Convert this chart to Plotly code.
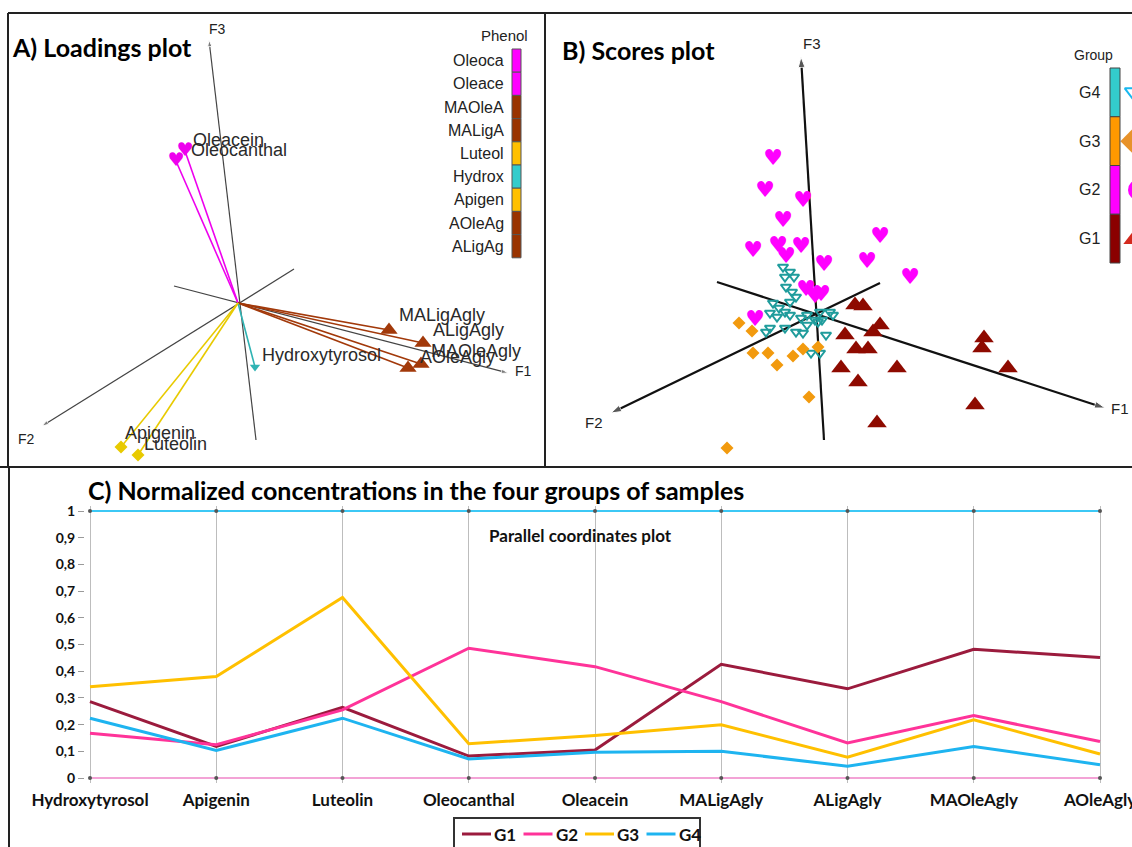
import plotly.graph_objects as go

# ---------------- Panel A: loadings (projected F1/F2/F3 view) ----------------
phenols = ["Oleacein", "Oleocanthal", "MALigAgly", "ALigAgly", "MAOleAgly",
           "AOleAgly", "Hydroxytyrosol", "Apigenin", "Luteolin"]
phenol_class = ["sec", "sec", "agly", "agly", "agly", "agly", "hyd", "flav", "flav"]
load_x = [-0.53, -0.62, 1.51, 1.85, 1.83, 1.70, 0.17, -1.17, -1.00]
load_y = [1.52, 1.42, -0.27, -0.40, -0.61, -0.65, -0.64, -1.44, -1.52]
lab_x = [-0.47, -0.49, 1.59, 1.93, 1.91, 1.80, 0.22, -1.15, -0.96]
lab_y = [1.63, 1.53, -0.12, -0.27, -0.48, -0.54, -0.52, -1.30, -1.41]

# projected factor axes (start, end) for panel A
axA_names = ["F1", "F2", "F3"]
axA_x0 = [-0.64, 0.56, 0.18]
axA_y0 = [0.17, 0.34, -1.37]
axA_x1 = [2.70, -1.96, -0.29]
axA_y1 = [-0.70, -1.23, 2.63]
axA_lx = [2.85, -2.12, -0.21]
axA_ly = [-0.68, -1.36, 2.74]

phenol_legend = ["Oleoca", "Oleace", "MAOleA", "MALigA", "Luteol", "Hydrox", "Apigen", "AOleAg", "ALigAg"]
phenol_legend_class = ["sec", "sec", "agly", "agly", "flav", "hyd", "flav", "agly", "agly"]

# ---------------- Panel B: scores ----------------
g1_x = [0.39, 0.47, 0.64, 0.57, 0.29, 0.40, 0.52, 0.25, 0.81, 0.42, 1.68, 1.66, 1.92, 1.59, 0.61]
g1_y = [0.08, 0.07, -0.12, -0.19, -0.22, -0.36, -0.36, -0.55, -0.55, -0.69, -0.25, -0.35, -0.55, -0.92, -1.10]
g2_x = [-0.43, -0.51, -0.13, -0.33, -0.63, -0.38, -0.15, -0.30, 0.08, 0.64, 0.51, 0.94, -0.10, -0.01, 0.05, -0.61]
g2_y = [1.54, 1.22, 1.12, 0.92, 0.62, 0.67, 0.66, 0.56, 0.48, 0.76, 0.51, 0.35, 0.23, 0.16, 0.18, -0.07]
g3_x = [-0.77, -0.64, -0.63, -0.48, -0.39, -0.23, -0.13, 0.02, -0.07, -0.89]
g3_y = [-0.10, -0.18, -0.40, -0.40, -0.52, -0.43, -0.36, -0.34, -0.84, -1.35]
g4_x = [-0.33, -0.26, -0.31, -0.22, -0.30, -0.24, -0.20, -0.26, -0.43, -0.37, -0.46, -0.31,
        -0.39, -0.26, -0.15, -0.09, 0.04, 0.14, 0.17, 0.06, -0.01, -0.46, -0.50, -0.31,
        -0.20, -0.09, 0.02, -0.05, 0.04, -0.13, 0.10]
g4_y = [0.46, 0.41, 0.36, 0.36, 0.26, 0.21, 0.16, 0.11, 0.10, 0.05, 0.00, 0.01,
        -0.04, -0.02, -0.05, -0.02, 0.01, 0.01, -0.02, -0.07, -0.07, -0.15, -0.19, -0.15,
        -0.19, -0.12, -0.09, -0.40, -0.40, -0.20, -0.22]

axB_names = ["F1", "F2", "F3"]
axB_x0 = [-0.99, 0.64, 0.08]
axB_y0 = [0.31, 0.30, -1.27]
axB_x1 = [2.89, -2.05, -0.15]
axB_y1 = [-0.95, -1.00, 2.56]
axB_lx = [3.04, -2.22, -0.04]
axB_ly = [-0.95, -1.09, 2.70]

groups_legend = ["G4", "G3", "G2", "G1"]

# ---------------- Panel C: parallel coordinates ----------------
compounds = ["Hydroxytyrosol", "Apigenin", "Luteolin", "Oleocanthal", "Oleacein",
             "MALigAgly", "ALigAgly", "MAOleAgly", "AOleAgly"]
G1 = [0.286, 0.118, 0.265, 0.082, 0.105, 0.426, 0.334, 0.482, 0.451]
G2 = [0.168, 0.125, 0.255, 0.486, 0.417, 0.286, 0.131, 0.234, 0.137]
G3 = [0.342, 0.380, 0.676, 0.128, 0.159, 0.199, 0.078, 0.218, 0.090]
G4 = [0.224, 0.103, 0.224, 0.071, 0.096, 0.100, 0.044, 0.118, 0.050]
series_names = ["G1", "G2", "G3", "G4"]
norm_max = [1, 1, 1, 1, 1, 1, 1, 1, 1]
norm_min = [0, 0, 0, 0, 0, 0, 0, 0, 0]
y_ticks = [0, 0.1, 0.2, 0.3, 0.4, 0.5, 0.6, 0.7, 0.8, 0.9, 1]
y_ticktext = ["0", "0,1", "0,2", "0,3", "0,4", "0,5", "0,6", "0,7", "0,8", "0,9", "1"]

# ---------------- styling ----------------
W, H = 1132, 847
ARIAL = "Liberation Sans, Arial, sans-serif"
BOLD = "Lato, Open Sans, sans-serif"
colA = {"sec": "#EE00EE", "agly": "#A2390A", "hyd": "#2FB3B3", "flav": "#E8CA00"}
colLegA = {"sec": "#FF00FF", "agly": "#993300", "hyd": "#33CCCC", "flav": "#FFC000"}
symA = {"agly": "triangle-up", "hyd": "triangle-down", "flav": "diamond"}
colG = {"G1": "#8B0000", "G2": "#FF00FF", "G3": "#FF9900", "G4": "#33CCCC"}
lineC = {"G1": "#9B1B3D", "G2": "#FF3399", "G3": "#FFC000", "G4": "#1EB4F0"}

fig = go.Figure()

# ---- Panel A traces ----
for i, n in enumerate(axA_names):
    fig.add_trace(go.Scatter(
        x=[axA_x0[i], axA_x1[i]], y=[axA_y0[i], axA_y1[i]], mode="lines+markers",
        line=dict(color="#444444", width=1.2),
        marker=dict(symbol="arrow", size=[0, 7], angleref="previous", color="#444444"),
        xaxis="x", yaxis="y", showlegend=False, hoverinfo="skip"))

for cls in ["sec", "agly", "hyd", "flav"]:
    xs, ys = [], []
    for i in range(len(phenols)):
        if phenol_class[i] == cls:
            xs += [0, load_x[i], None]
            ys += [0, load_y[i], None]
    fig.add_trace(go.Scatter(x=xs, y=ys, mode="lines",
                             line=dict(color=colA[cls], width=1.6),
                             xaxis="x", yaxis="y", showlegend=False, hoverinfo="skip"))

for cls in ["agly", "hyd", "flav"]:
    idx = [i for i in range(len(phenols)) if phenol_class[i] == cls]
    fig.add_trace(go.Scatter(
        x=[load_x[i] for i in idx], y=[load_y[i] for i in idx], mode="markers",
        marker=dict(symbol=symA[cls], size={"agly": 15, "hyd": 9, "flav": 10}[cls],
                    color=colA[cls]),
        xaxis="x", yaxis="y", showlegend=False, hoverinfo="skip"))
idx = [i for i in range(len(phenols)) if phenol_class[i] == "sec"]
fig.add_trace(go.Scatter(
    x=[load_x[i] for i in idx], y=[load_y[i] for i in idx], mode="text",
    text=["\u2665"] * len(idx), textposition="middle center",
    textfont=dict(family="DejaVu Sans", size=19, color=colA["sec"]),
    xaxis="x", yaxis="y", showlegend=False, hoverinfo="skip"))

# ---- Panel B traces ----
for i, n in enumerate(axB_names):
    fig.add_trace(go.Scatter(
        x=[axB_x0[i], axB_x1[i]], y=[axB_y0[i], axB_y1[i]], mode="lines+markers",
        line=dict(color="#111111", width=2.2),
        marker=dict(symbol="arrow", size=[0, 11], angleref="previous", color="#111111"),
        xaxis="x2", yaxis="y2", showlegend=False, hoverinfo="skip"))

fig.add_trace(go.Scatter(x=g4_x, y=g4_y, mode="markers",
                         marker=dict(symbol="triangle-down-open", size=9, color="#1F9C9C",
                                     line=dict(width=2, color="#1F9C9C")),
                         xaxis="x2", yaxis="y2", showlegend=False, hoverinfo="skip"))
fig.add_trace(go.Scatter(x=g3_x, y=g3_y, mode="markers",
                         marker=dict(symbol="diamond", size=10, color="#F29A0E"),
                         xaxis="x2", yaxis="y2", showlegend=False, hoverinfo="skip"))
fig.add_trace(go.Scatter(x=g1_x, y=g1_y, mode="markers",
                         marker=dict(symbol="triangle-up", size=17, color="#8E0A00"),
                         xaxis="x2", yaxis="y2", showlegend=False, hoverinfo="skip"))
fig.add_trace(go.Scatter(x=g2_x, y=g2_y, mode="text", text=["\u2665"] * len(g2_x),
                         textposition="middle center",
                         textfont=dict(family="DejaVu Sans", size=22, color="#FF00FF"),
                         xaxis="x2", yaxis="y2", showlegend=False, hoverinfo="skip"))

# ---- Panel C traces ----
xc = list(range(len(compounds)))
fig.add_trace(go.Scatter(x=xc, y=norm_max, mode="lines", line=dict(color="#3CC8F5", width=2),
                         xaxis="x3", yaxis="y3", showlegend=False, hoverinfo="skip"))
fig.add_trace(go.Scatter(x=xc, y=norm_min, mode="lines", line=dict(color="#F3A3D6", width=2),
                         xaxis="x3", yaxis="y3", showlegend=False, hoverinfo="skip"))
for name, vals in zip(series_names, [G1, G2, G3, G4]):
    fig.add_trace(go.Scatter(x=xc, y=vals, mode="lines", name=name,
                             line=dict(color=lineC[name], width=3),
                             xaxis="x3", yaxis="y3", showlegend=False))
fig.add_trace(go.Scatter(x=xc + xc, y=norm_max + norm_min, mode="markers",
                         marker=dict(size=4, color="#555555"), cliponaxis=False,
                         xaxis="x3", yaxis="y3", showlegend=False, hoverinfo="skip"))

# ---------------- axes ----------------
pxA = 100.0  # pixels per unit in panels A/B
yA_dom = [(H - 467) / H, 1]
oxA, oyA = 238, 303
oxB, oyB = 816, 313
hidden = dict(visible=False, fixedrange=True, automargin=False)
fig.update_layout(
    xaxis=dict(domain=[0, 545 / W], range=[-oxA / pxA, (545 - oxA) / pxA], anchor="y", **hidden),
    yaxis=dict(domain=yA_dom, range=[(oyA - 467) / pxA, oyA / pxA], anchor="x", **hidden),
    xaxis2=dict(domain=[545 / W, 1], range=[(545 - oxB) / pxA, (W - oxB) / pxA], anchor="y2", **hidden),
    yaxis2=dict(domain=yA_dom, range=[(oyB - 467) / pxA, oyB / pxA], anchor="x2", **hidden),
)
pxC = (1100 - 90) / 8.0
pyC = 778 - 511
fig.update_layout(
    xaxis3=dict(domain=[85 / W, 1], range=[-5 / pxC, (W - 90) / pxC],
                tickvals=xc, ticktext=compounds, showgrid=True, gridcolor="#BDBDBD",
                gridwidth=1, zeroline=False, showline=False, ticks="",
                ticklabeloverflow="allow", ticklabelstandoff=5,
                tickfont=dict(family=BOLD, size=17, color="#111111", weight="bold"),
                fixedrange=True, anchor="y3", automargin=False),
    yaxis3=dict(domain=[(H - 778 - 0.02 * pyC) / H, (H - 511 + 0.02 * pyC) / H],
                range=[-0.02, 1.02], tickvals=y_ticks, ticktext=y_ticktext,
                showgrid=False, zeroline=False, showline=False, ticks="outside",
                ticklen=6, tickcolor="#9A9A9A", ticklabeloverflow="allow",
                tickfont=dict(family=BOLD, size=14, color="#111111", weight="bold"),
                fixedrange=True, anchor="x3", automargin=False),
)

# ---------------- annotations ----------------
ann = []
shapes = []
for i, n in enumerate(phenols):
    ann.append(dict(x=lab_x[i], y=lab_y[i], xref="x", yref="y", text=n, showarrow=False,
                    xanchor="left", yanchor="middle",
                    font=dict(family=ARIAL, size=18, color="#2A2A2A")))
for i, n in enumerate(axA_names):
    ann.append(dict(x=axA_lx[i], y=axA_ly[i], xref="x", yref="y", text=n, showarrow=False,
                    font=dict(family=ARIAL, size=14, color="#222222")))
for i, n in enumerate(axB_names):
    ann.append(dict(x=axB_lx[i], y=axB_ly[i], xref="x2", yref="y2", text=n, showarrow=False,
                    font=dict(family=ARIAL, size=15, color="#222222")))

# Phenol legend (panel A)
segA = 0.232
topA = (oyA - 49) / pxA
bxA0, bxA1 = (512 - oxA) / pxA, (521 - oxA) / pxA
ann.append(dict(x=(530 - oxA) / pxA, y=(oyA - 35) / pxA, xref="x", yref="y", text="Phenol",
                showarrow=False, xanchor="right", font=dict(family=ARIAL, size=15, color="#222")))
for i, lab in enumerate(phenol_legend):
    y1 = topA - i * segA
    y0 = y1 - segA
    shapes.append(dict(type="rect", xref="x", yref="y", x0=bxA0, x1=bxA1, y0=y0, y1=y1,
                       fillcolor=colLegA[phenol_legend_class[i]],
                       line=dict(color="#555555", width=1)))
    ann.append(dict(x=(506 - oxA) / pxA, y=(y0 + y1) / 2, xref="x", yref="y", text=lab,
                    showarrow=False, xanchor="right", yanchor="middle",
                    font=dict(family=ARIAL, size=16, color="#222222")))

# Group legend (panel B)
segB = 0.4875
topB = (oyB - 68) / pxA
bxB0, bxB1 = (1110 - oxB) / pxA, (1120 - oxB) / pxA
ann.append(dict(x=(1093 - oxB) / pxA, y=(oyB - 55) / pxA, xref="x2", yref="y2", text="Group",
                showarrow=False, font=dict(family=ARIAL, size=14, color="#222")))
leg_icon_y = []
for i, g in enumerate(groups_legend):
    y1 = topB - i * segB
    y0 = y1 - segB
    leg_icon_y.append((y0 + y1) / 2)
    shapes.append(dict(type="rect", xref="x2", yref="y2", x0=bxB0, x1=bxB1, y0=y0, y1=y1,
                       fillcolor=colG[g], line=dict(color="#444444", width=1)))
    ann.append(dict(x=(1102 - oxB) / pxA, y=(y0 + y1) / 2, xref="x2", yref="y2", text=g,
                    showarrow=False, xanchor="right", yanchor="middle",
                    font=dict(family=ARIAL, size=16, color="#222222")))
# clipped legend icons at the right edge of panel B
icon_x = (1134 - oxB) / pxA
fig.add_trace(go.Scatter(x=[icon_x], y=[leg_icon_y[0]], mode="markers",
                         marker=dict(symbol="triangle-down-open", size=16, color="#19B8F0",
                                     line=dict(width=2, color="#19B8F0")),
                         xaxis="x2", yaxis="y2", showlegend=False, hoverinfo="skip"))
fig.add_trace(go.Scatter(x=[icon_x + 0.02], y=[leg_icon_y[1]], mode="markers",
                         marker=dict(symbol="diamond", size=24, color="#E8922A"),
                         xaxis="x2", yaxis="y2", showlegend=False, hoverinfo="skip"))
fig.add_trace(go.Scatter(x=[icon_x + 0.04], y=[leg_icon_y[2]], mode="markers",
                         marker=dict(symbol="circle", size=20, color="#FF00FF"),
                         xaxis="x2", yaxis="y2", showlegend=False, hoverinfo="skip"))
fig.add_trace(go.Scatter(x=[icon_x + 0.02], y=[leg_icon_y[3]], mode="markers",
                         marker=dict(symbol="triangle-up", size=22, color="#D42A1E"),
                         xaxis="x2", yaxis="y2", showlegend=False, hoverinfo="skip"))

# Legend for panel C (drawn in paper space, bottom centre)
leg_left, leg_top, leg_right = 454, 818, 700
shapes.append(dict(type="rect", xref="paper", yref="paper", x0=leg_left / W, x1=leg_right / W,
                   y0=-0.01, y1=1 - leg_top / H, line=dict(color="#333333", width=2),
                   fillcolor="white"))
for i, name in enumerate(series_names):
    lx0 = 462 + i * 61.5
    shapes.append(dict(type="line", xref="paper", yref="paper", x0=lx0 / W, x1=(lx0 + 29) / W,
                       y0=1 - 834 / H, y1=1 - 834 / H, line=dict(color=lineC[name], width=3)))
    ann.append(dict(x=(lx0 + 30) / W, y=1 - 834 / H, xref="paper", yref="paper",
                    text="<b>" + name + "</b>", showarrow=False, xanchor="left", yanchor="middle",
                    font=dict(family=BOLD, size=17, color="#111111")))

# titles
ann.append(dict(x=10 / W, y=1 - 47 / H, xref="paper", yref="paper", text="<b>A) Loadings plot</b>",
                showarrow=False, xanchor="left", yanchor="middle",
                font=dict(family=BOLD, size=25, color="#000000")))
ann.append(dict(x=560 / W, y=1 - 50 / H, xref="paper", yref="paper", text="<b>B) Scores plot</b>",
                showarrow=False, xanchor="left", yanchor="middle",
                font=dict(family=BOLD, size=25, color="#000000")))
ann.append(dict(x=86 / W, y=1 - 490 / H, xref="paper", yref="paper",
                text="<b>C) Normalized concentrations in the four groups of samples</b>",
                showarrow=False, xanchor="left", yanchor="middle",
                font=dict(family=BOLD, size=25, color="#000000")))
ann.append(dict(x=580 / W, y=1 - 535 / H, xref="paper", yref="paper",
                text="<b>Parallel coordinates plot</b>", showarrow=False,
                xanchor="center", yanchor="middle",
                font=dict(family=BOLD, size=17, color="#111111")))

# panel frames
frame = dict(color="#222222", width=2)
for (x0, y0, x1, y1) in [(8, 13, W, 13), (8, 13, 8, 467), (545, 13, 545, 467),
                         (0, 467, W, 467), (9, 467, 9, H)]:
    shapes.append(dict(type="line", xref="paper", yref="paper", x0=x0 / W, x1=x1 / W,
                       y0=1 - y0 / H, y1=1 - y1 / H, line=frame))

fig.update_layout(
    template="none",
    width=W, height=H, margin=dict(l=0, r=0, t=0, b=0, pad=0, autoexpand=False),
    paper_bgcolor="white", plot_bgcolor="rgba(0,0,0,0)",
    annotations=ann, shapes=shapes, showlegend=False,
)

fig.write_html("out.html", config={"displayModeBar": False},
               post_script="document.body.style.margin='0px';")
